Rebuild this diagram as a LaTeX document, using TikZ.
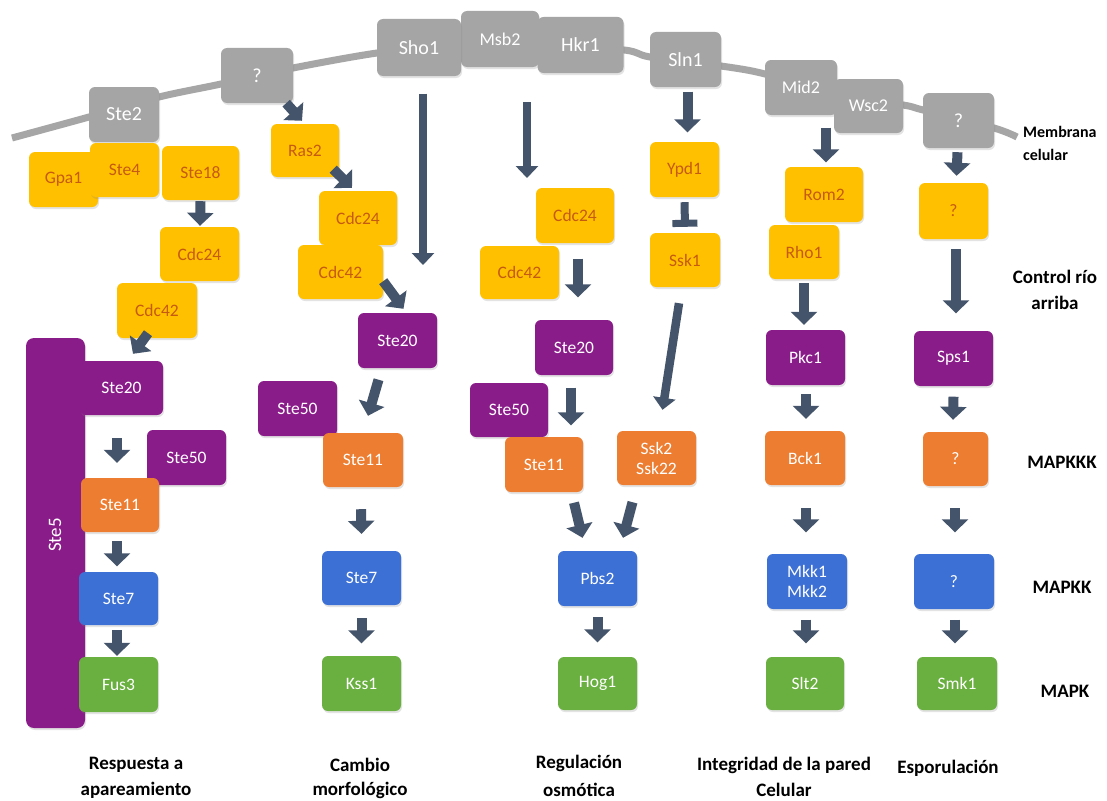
\documentclass[tikz,border=0pt]{standalone}
\usepackage{fontspec}
\setmainfont{Carlito}
\usetikzlibrary{arrows.meta,calc,shadows}
\definecolor{memb}{RGB}{166,166,166}
\definecolor{gbox}{RGB}{165,165,165}
\definecolor{ybox}{RGB}{255,192,0}
\definecolor{ytext}{RGB}{197,90,17}
\definecolor{pbox}{RGB}{138,28,138}
\definecolor{obox}{RGB}{237,125,49}
\definecolor{bbox}{RGB}{61,112,212}
\definecolor{grbox}{RGB}{106,176,64}
\definecolor{arrowc}{RGB}{68,84,106}
\begin{document}
\begin{tikzpicture}[x=1pt,y=-1pt,
  sz/.style 2 args={minimum width=#1pt, minimum height=#2pt},
  box/.style={rectangle, rounded corners=6pt, inner sep=0pt, align=center,
    font=\fontsize{17.5}{20}\selectfont,
    drop shadow={shadow xshift=1pt, shadow yshift=-2pt, opacity=0.22}},
  gyx/.style={box, fill=gbox, text=white, font=\fontsize{20}{22}\selectfont},
  ybx/.style={box, fill=ybox, text=ytext},
  pbx/.style={box, fill=pbox, text=white},
  obx/.style={box, fill=obox, text=white},
  bbx/.style={box, fill=bbox, text=white},
  gnx/.style={box, fill=grbox, text=white},
  lbl/.style={font=\bfseries\fontsize{19}{21}\selectfont, text=black, inner sep=0pt},
  barrow/.style={color=arrowc, line width=10pt, -{Triangle[length=13pt,width=26pt]}},
  larrow/.style={color=arrowc, line width=8.5pt, -{Triangle[length=12pt,width=22pt]}},
  tbar/.style={color=arrowc, line width=8pt, -{Bar[width=25pt,line width=7pt]}}
]
\useasboundingbox (0,0) rectangle (1107,800);
\fill[white] (0,0) rectangle (1107,800);

% membrane
\draw[memb, line width=7pt] plot[smooth,tension=0.5] coordinates {(12,138) (89,117) (159,97) (221,84) (293,68) (377,53) (460,44) (540,45) (624,50) (650,57) (721,66) (765,74) (837,96) (903,105) (923,110) (994,128) (1017,137)};

% gray receptors
\node[gyx,sz={70}{55}] (ste2) at (124,114.5) {Ste2};
\node[gyx,sz={72}{55}] (gq1) at (257,75.5) {?};
\node[gyx,sz={78}{56},font=\fontsize{18}{20}\selectfont] (msb2) at (500,39) {Msb2};
\node[gyx,sz={84}{57}] (sho1) at (419,47.5) {Sho1};
\node[gyx,sz={86}{56}] (hkr1) at (580.5,45) {Hkr1};
\node[gyx,sz={71}{55}] (sln1) at (685.5,59.5) {Sln1};
\node[gyx,sz={72}{55},font=\fontsize{18}{20}\selectfont] (mid2) at (801,87.5) {Mid2};
\node[gyx,sz={69}{54},font=\fontsize{18}{20}\selectfont] (wsc2) at (868.5,106) {Wsc2};
\node[gyx,sz={71}{55}] (gq2) at (958.5,120.5) {?};

% yellow
\node[ybx,sz={69}{55}] (gpa1) at (63.5,179.5) {Gpa1};
\node[ybx,sz={69}{54}] (ste4) at (124.5,170) {Ste4};
\node[ybx,sz={77}{54}] (ste18) at (200.5,173) {Ste18};
\node[ybx,sz={79}{54}] (cdc24a) at (199.5,254) {Cdc24};
\node[ybx,sz={80}{55}] (cdc42a) at (157,310.5) {Cdc42};
\node[ybx,sz={68}{53}] (ras2) at (305,150.5) {Ras2};
\node[ybx,sz={78}{54}] (cdc24b) at (358,218) {Cdc24};
\node[ybx,sz={85}{54}] (cdc42b) at (340.5,272) {Cdc42};
\node[ybx,sz={78}{55}] (cdc24c) at (575,215.5) {Cdc24};
\node[ybx,sz={79}{53}] (cdc42c) at (519.5,272.5) {Cdc42};
\node[ybx,sz={69}{55}] (ypd1) at (684.5,169.5) {Ypd1};
\node[ybx,sz={70}{54}] (ssk1) at (685,260) {Ssk1};
\node[ybx,sz={78}{55}] (rom2) at (824,194.5) {Rom2};
\node[ybx,sz={70}{54}] (rho1) at (804,252) {Rho1};
\node[ybx,sz={69}{56}] (yq) at (953.5,211) {?};

% purple
\node[pbx,sz={59}{390},rounded corners=8pt] (ste5) at (55.5,533) {};
\node[rotate=90, text=white, font=\fontsize{19}{21}\selectfont, inner sep=0pt] (ste5lbl) at (55,535) {Ste5};
\node[pbx,sz={83}{54}] (ste20a) at (121.5,388) {Ste20};
\node[pbx,sz={79}{55}] (ste50a) at (186.5,457.5) {Ste50};
\node[pbx,sz={79}{55}] (ste20b) at (397.5,340.5) {Ste20};
\node[pbx,sz={79}{55}] (ste50b) at (297.5,408.5) {Ste50};
\node[pbx,sz={78}{55}] (ste20c) at (574,347.5) {Ste20};
\node[pbx,sz={78}{54}] (ste50c) at (509,410) {Ste50};
\node[pbx,sz={79}{55}] (pkc1) at (805.5,357.5) {Pkc1};
\node[pbx,sz={79}{55}] (sps1) at (953.5,358.5) {Sps1};

% orange
\node[obx,sz={78}{54}] (ste11a) at (120,505) {Ste11};
\node[obx,sz={80}{54}] (ste11b) at (363,460) {Ste11};
\node[obx,sz={78}{55}] (ste11c) at (544,464.5) {Ste11};
\node[obx,sz={79}{54}] (ssk2) at (656.5,458) {Ssk2\\Ssk22};
\node[obx,sz={80}{54}] (bck1) at (805,458) {Bck1};
\node[obx,sz={65}{54}] (oq) at (955.5,459) {?};

% blue
\node[bbx,sz={79}{53}] (ste7a) at (118.5,598.5) {Ste7};
\node[bbx,sz={79}{54}] (ste7b) at (361.5,578) {Ste7};
\node[bbx,sz={79}{55}] (pbs2) at (597.5,578.5) {Pbs2};
\node[bbx,sz={80}{55}] (mkk) at (807,581.5) {Mkk1\\Mkk2};
\node[bbx,sz={80}{55}] (bq) at (954,581.5) {?};

% green
\node[gnx,sz={79}{55}] (fus3) at (118.5,684.5) {Fus3};
\node[gnx,sz={79}{55}] (kss1) at (361.5,683.5) {Kss1};
\node[gnx,sz={79}{53}] (hog1) at (597.5,683.5) {Hog1};
\node[gnx,sz={78}{53}] (slt2) at (805,683.5) {Slt2};
\node[gnx,sz={80}{53}] (smk1) at (957,683.5) {Smk1};

% free arrow ends
\coordinate (sho1tip) at (423,265);
\coordinate (msb2tip) at (527,178);

% arrows
\draw[larrow] ($(sho1.south)+(4,17.5)$) -- (sho1tip);
\draw[larrow] ($(msb2.south)+(27,35)$) -- (msb2tip);
\draw[barrow] ($(sln1.south)+(2,4.5)$) -- ($(ypd1.north)+(3,-9.5)$);
\draw[tbar] ($(ypd1.south)+(0,5)$) -- ($(ssk1.north)+(0,-6)$);
\draw[larrow] ($(ssk1.south)+(-6,16)$) -- ($(ssk2.north)+(6,-21)$);
\draw[barrow] ($(mid2.south)+(25,12.5)$) -- ($(rom2.north)+(2,-4.5)$);
\draw[barrow] ($(gq2.south)+(-1,4)$) -- ($(yq.north)+(3,-7)$);
\draw[barrow] ($(gq1.south east)+(-7,0)$) -- ($(ras2.north)+(-3,-3)$);
\draw[barrow] ($(ras2.south east)+(-6,-8)$) -- ($(cdc24b.north)+(-6,-3)$);
\draw[barrow] ($(cdc42b.south east)+(0,-18)$) -- ($(ste20b.north)+(6,-4)$);
\draw[barrow] ($(ste20b.south)+(-19,11.5)$) -- ($(ste11b.north)+(5,-17)$);
\draw[barrow] ($(ste11b.south)+(-2,22)$) -- ($(ste7b.north)+(0,-17)$);
\draw[barrow] ($(ste7b.south)+(0,13)$) -- ($(kss1.north)+(0,-12.5)$);
\draw[barrow] ($(cdc24c.south)+(3,15.5)$) -- ($(ste20c.north)+(4,-22.5)$);
\draw[barrow] ($(ste20c.south)+(-3,12.5)$) -- ($(ste11c.north)+(27,-11.5)$);
\draw[barrow] ($(ste11c.south)+(30,10.5)$) -- ($(pbs2.north)+(-15,-13)$);
\draw[barrow] ($(ssk2.south)+(-24,17)$) -- ($(pbs2.north)+(25.5,-13)$);
\draw[barrow] ($(pbs2.south)+(0,11)$) -- ($(hog1.north)+(0,-14.5)$);
\draw[barrow] ($(ste18.south)+(0,1)$) -- ($(cdc24a.north)+(0.5,-1)$);
\draw[barrow] ($(cdc42a.south)+(-9,-5)$) -- ($(ste20a.north)+(11.5,-7)$);
\draw[barrow] ($(ste20a.south)+(-4.5,23)$) -- ($(ste11a.north)+(-3,-15)$);
\draw[barrow] ($(ste11a.south)+(-3,9)$) -- ($(ste7a.north)+(-1.5,-5.5)$);
\draw[barrow] ($(ste7a.south)+(-1.5,5)$) -- ($(fus3.north)+(-1.5,-1)$);
\draw[barrow] ($(rho1.south)+(0,4)$) -- ($(pkc1.north)+(-1.5,-5)$);
\draw[barrow] ($(pkc1.south)+(0.5,9)$) -- ($(bck1.north)+(1,-12)$);
\draw[barrow] ($(bck1.south)+(1,23)$) -- ($(mkk.north)+(-1,-21.5)$);
\draw[barrow] ($(mkk.south)+(-1,10.5)$) -- ($(slt2.north)+(1,-13.5)$);
\draw[barrow] ($(yq.south)+(2.5,10)$) -- ($(sps1.north)+(2.5,-17.5)$);
\draw[barrow] ($(sps1.south)+(0,10.5)$) -- ($(oq.north)+(-2.5,-12)$);
\draw[barrow] ($(oq.south)+(-0.5,22)$) -- ($(bq.north)+(1,-21.5)$);
\draw[barrow] ($(bq.south)+(1,10.5)$) -- ($(smk1.north)+(-2,-13.5)$);

% side labels
\node[lbl, anchor=west, font=\bfseries\fontsize{16}{18}\selectfont] (mem1) at (1023,132) {Membrana};
\node[lbl, anchor=west, font=\bfseries\fontsize{16}{18}\selectfont] (mem2) at (1023,155) {celular};
\node[lbl] (ctl1) at (1055,277) {Control río};
\node[lbl] (ctl2) at (1055,303) {arriba};
\node[lbl] (mkkk) at (1062,462) {MAPKKK};
\node[lbl] (mkkl) at (1062,587) {MAPKK};
\node[lbl] (mkl) at (1065,691) {MAPK};

% bottom labels
\node[lbl] (b1a) at (136,765) {Respuesta a};
\node[lbl] (b1b) at (136,790) {apareamiento};
\node[lbl] (b2a) at (360,765) {Cambio};
\node[lbl] (b2b) at (360,790) {morfológico};
\node[lbl] (b3a) at (579,763) {Regulación};
\node[lbl] (b3b) at (579,790) {osmótica};
\node[lbl] (b4a) at (784,765) {Integridad de la pared};
\node[lbl] (b4b) at (784,790) {Celular};
\node[lbl] (b5a) at (948,768) {Esporulación};
\end{tikzpicture}
\end{document}
